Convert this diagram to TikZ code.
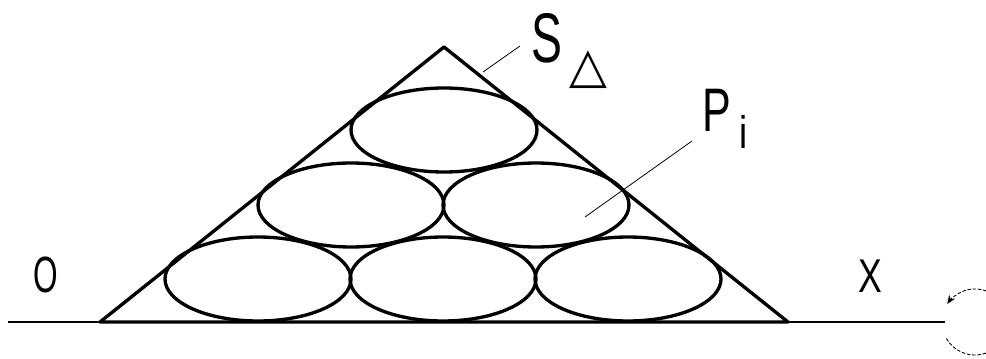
\documentclass[tikz,border=0pt]{standalone}
\usepackage{fontspec}
\setmainfont{Liberation Sans}
\newfontfamily\dvfont{DejaVu Sans}
\usetikzlibrary{arrows.meta}
\begin{document}
\begin{tikzpicture}[x=0.02cm,y=-0.02cm,
  outl/.style={line width=1.9pt,line join=round},
  axisline/.style={line width=1.1pt},
  leader/.style={line width=0.45pt},
  lbl/.style={inner sep=0pt,anchor=base west},
  rot/.style={line width=0.5pt,dash pattern=on 2pt off 1pt}]
\useasboundingbox (0,0) rectangle (986,358);
\clip (0,0) rectangle (986,358);
% axis
\coordinate (axL) at (8,322);
\coordinate (axR) at (945,322);
\draw[axisline] (axL) -- (axR);
% triangle
\coordinate (tA) at (100,322);
\coordinate (tB) at (444,47);
\coordinate (tC) at (788,322);
\draw[outl] (tA) -- (tB) -- (tC) -- cycle;
% ellipses
\foreach \cx/\cy in {258/279, 443/279, 628/279, 351/205, 536/205, 444/130}
  \draw[outl] (\cx,\cy) ellipse [x radius=93, y radius=42];
% labels
\node[lbl] (S) at (531,63) {\fontsize{40}{40}\selectfont\scalebox{0.66}[1]{S}};
\node[lbl] (D) at (569,83) {\fontsize{28}{28}\dvfont\selectfont △};
\node[lbl] (P) at (702,132) {\fontsize{35}{35}\selectfont\scalebox{0.7}[1]{P}};
\node[lbl] (I) at (739,148) {\fontsize{26}{26}\selectfont\scalebox{0.8}[1]{i}};
\node[lbl] (O) at (33,292) {\fontsize{29}{29}\selectfont\scalebox{0.62}[1]{O}};
\node[lbl] (X) at (858,292) {\fontsize{27}{27}\selectfont\scalebox{0.75}[1]{X}};
% leaders
\coordinate (sl1) at (483,72);
\coordinate (sl2) at (520,46);
\draw[leader] (sl1) -- (sl2);
\coordinate (pl1) at (585,217);
\coordinate (pl2) at (692,141);
\draw[leader] (pl1) -- (pl2);
% rotation arrow
\coordinate (rc) at (975,322);
\draw[rot,-{Stealth[length=5pt,width=4pt]}] ([shift={(150:33)}]rc) arc[start angle=150,end angle=-147,radius=33];
\end{tikzpicture}
\end{document}
